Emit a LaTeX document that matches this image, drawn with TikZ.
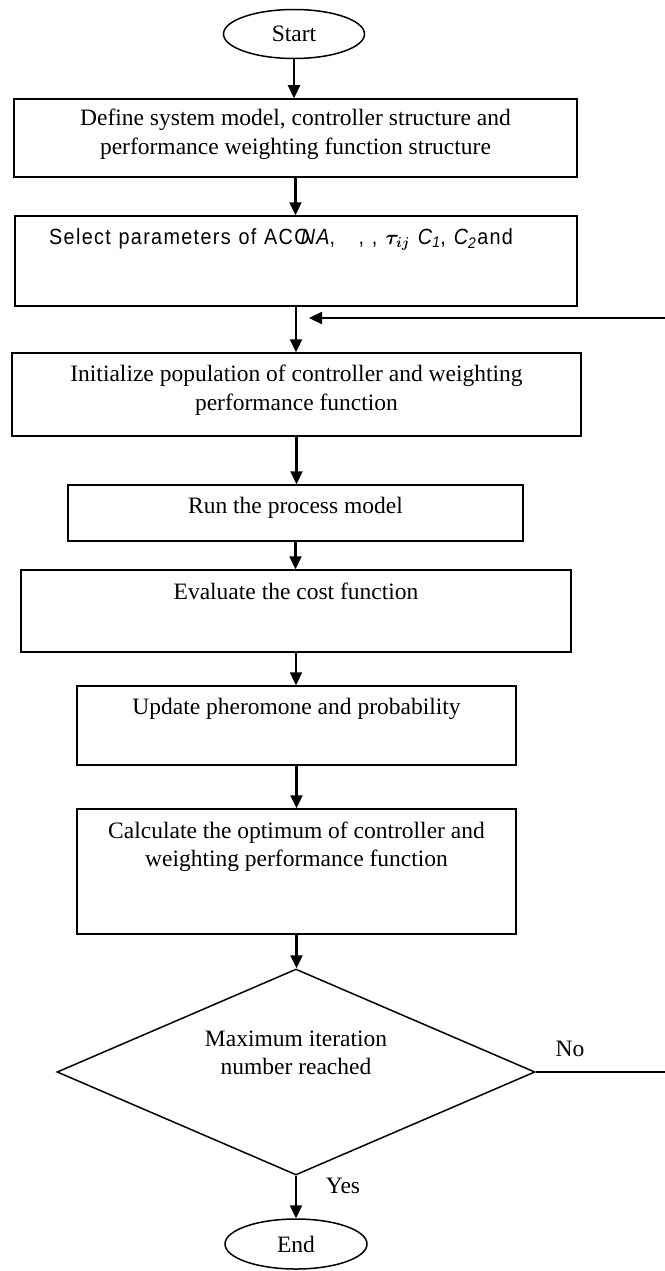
\documentclass[tikz,border=0pt]{standalone}
\usepackage{fontspec}
\usepackage{amsmath}
\setmainfont{Liberation Serif}
\newfontfamily\selfont[FakeStretch=0.9,LetterSpace=6,WordSpace=1.15]{Liberation Sans}
\usetikzlibrary{shapes.geometric,arrows.meta}
\begin{document}
\begin{tikzpicture}[x=1pt,y=-1pt,
  box/.style={draw,line width=1.5pt,inner sep=0},
  term/.style={draw,ellipse,line width=1.5pt,inner sep=0,font=\fontsize{23.5}{28.5}\selectfont},
  txt/.style={anchor=north,inner sep=0,align=center,font=\fontsize{23.5}{28.5}\selectfont},
  lbl/.style={inner sep=0,font=\fontsize{23.5}{28.5}\selectfont},
  arr/.style={line width=2.3pt,-{Triangle[length=13pt,width=12pt]}}]
\path[fill=white,use as bounding box] (0,0) rectangle (664,1271);

\node[term,minimum width=141pt,minimum height=49pt] (st) at (294,34) {Start};
\node[box,minimum width=563pt,minimum height=78pt] (b1) at (295.5,138) {};
\node[box,minimum width=562pt,minimum height=90pt] (b2) at (296,261) {};
\node[box,minimum width=569pt,minimum height=83pt] (b3) at (296.5,394.5) {};
\node[box,minimum width=455pt,minimum height=56pt] (b4) at (295.5,513) {};
\node[box,minimum width=550pt,minimum height=82pt] (b5) at (296,611) {};
\node[box,minimum width=439pt,minimum height=79pt] (b6) at (296.5,725.5) {};
\node[box,minimum width=439pt,minimum height=125pt] (b7) at (296.5,871.5) {};
\node[draw,diamond,line width=1.5pt,inner sep=0,aspect=2.32,minimum width=478pt,minimum height=206pt] (dec) at (296,1072) {};
\node[term,minimum width=142pt,minimum height=50pt] (en) at (296,1244) {End};

\node[txt] (t1) at ([yshift=-11pt]b1.north) {Define system model, controller structure and\\performance weighting function structure};
\node[txt,font=\fontsize{22}{26}\selfont,anchor=north west] (t2) at ([yshift=-13pt]b2.north west -| 49,0) {Select parameters of ACO\kern-9pt{\itshape NA},\ \ \ , , $\boldsymbol{\tau_{ij}}$ {\itshape C}\textsubscript{\itshape 1}, {\itshape C}\textsubscript{\itshape 2}\kern1pt and};
\node[txt] (t3) at ([yshift=-13pt]b3.north) {Initialize population of controller and weighting\\performance function};
\node[txt] (t4) at ([yshift=-13pt]b4.north) {Run the process model};
\node[txt] (t5) at ([yshift=-13pt]b5.north) {Evaluate the cost function};
\node[txt] (t6) at ([yshift=-13pt]b6.north) {Update pheromone and probability};
\node[txt] (t7) at ([yshift=-13pt]b7.north) {Calculate the optimum of controller and\\weighting performance function};
\node[lbl,align=center] (t8) at ([yshift=19pt]dec.center) {Maximum iteration\\number reached};
\node[lbl] (no) at (570,1049) {No};
\node[lbl] (yes) at (343,1186) {Yes};

\coordinate (fbr) at (668,1072);
\coordinate (fbt) at (668,318);
\coordinate (fbe) at (309,318);

\draw[arr] (st.south) -- (st.south |- b1.north);
\draw[arr] (b1.south) -- (b1.south |- b2.north);
\draw[arr] (b2.south) -- (b2.south |- b3.north);
\draw[arr] (b3.south) -- (b3.south |- b4.north);
\draw[arr] (b4.south) -- (b4.south |- b5.north);
\draw[arr] (b5.south) -- (b5.south |- b6.north);
\draw[arr] (b6.south) -- (b6.south |- b7.north);
\draw[arr] (b7.south) -- (b7.south |- dec.north);
\draw[arr] (dec.south) -- (dec.south |- en.north);
\draw[arr] (dec.east) -- (fbr) -- (fbt) -- (fbe);
\end{tikzpicture}
\end{document}
